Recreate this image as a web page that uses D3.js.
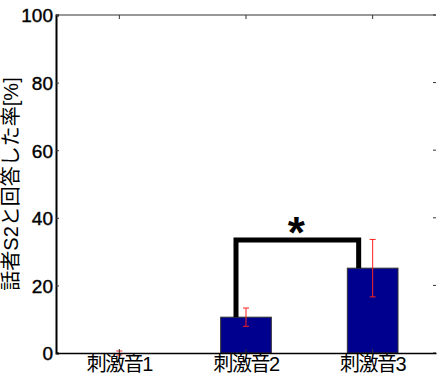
<!DOCTYPE html>
<html>
<head>
<meta charset="utf-8">
<script src="https://cdn.jsdelivr.net/npm/d3@7"></script>
<style>
  body { margin: 0; background: #fff; }
  text { font-family: "Liberation Sans", "Noto Sans CJK JP", sans-serif; fill: #000; }
</style>
</head>
<body>
<div id="chart"></div>
<script>
const categories = ['刺激音1', '刺激音2', '刺激音3'];
const values = [0, 10.6, 25.1];
const errors = [0.6, 2.7, 8.5];
const yTicks = [0, 20, 40, 60, 80, 100];
const sigPair = ['刺激音2', '刺激音3'];
const sigLevel = 33.4;

const W = 437, H = 382;
const margin = { left: 56, right: 1, top: 15, bottom: 29 };

const svg = d3.select('#chart').append('svg')
  .attr('width', W)
  .attr('height', H);

const x = d3.scaleBand()
  .domain(categories)
  .range([margin.left, W - margin.right])
  .paddingInner(0.6)
  .paddingOuter(0.3);

const y = d3.scaleLinear()
  .domain([0, 100])
  .range([H - margin.bottom, margin.top]);

const cx = d => x(d) + x.bandwidth() / 2;

// top frame line + ticks
svg.append('line')
  .attr('x1', margin.left).attr('x2', W - margin.right)
  .attr('y1', y(100)).attr('y2', y(100))
  .attr('stroke', '#333').attr('stroke-width', 1);

svg.selectAll('.ttick')
  .data(categories)
  .enter().append('line')
  .attr('x1', cx).attr('x2', cx)
  .attr('y1', y(100)).attr('y2', y(100) + 4)
  .attr('stroke', '#333');

// right ticks
svg.selectAll('.rtick')
  .data(yTicks)
  .enter().append('line')
  .attr('x1', W - margin.right - 3).attr('x2', W - margin.right)
  .attr('y1', d => y(d)).attr('y2', d => y(d))
  .attr('stroke', '#333');

// bars
svg.selectAll('.bar')
  .data(categories)
  .enter().append('rect')
  .attr('x', d => x(d))
  .attr('width', x.bandwidth())
  .attr('y', (d, i) => y(values[i]))
  .attr('height', (d, i) => y(0) - y(values[i]))
  .attr('fill', '#00008f')
  .attr('stroke', '#333')
  .attr('stroke-width', 1);

// error bars
const eb = svg.append('g').attr('stroke', '#ff2020').attr('stroke-width', 1);
categories.forEach((c, i) => {
  const lo = y(values[i] - errors[i]), hi = y(values[i] + errors[i]);
  eb.append('line').attr('x1', cx(c)).attr('x2', cx(c)).attr('y1', lo).attr('y2', hi);
  eb.append('line').attr('x1', cx(c) - 3).attr('x2', cx(c) + 3).attr('y1', lo).attr('y2', lo);
  eb.append('line').attr('x1', cx(c) - 3).attr('x2', cx(c) + 3).attr('y1', hi).attr('y2', hi);
});

// significance bracket
const i1 = categories.indexOf(sigPair[0]), i2 = categories.indexOf(sigPair[1]);
const bx1 = cx(sigPair[0]) - 10, bx2 = cx(sigPair[1]) - 14;
svg.append('path')
  .attr('d', `M${bx1},${y(values[i1])}V${y(sigLevel)}H${bx2}V${y(values[i2])}`)
  .attr('fill', 'none')
  .attr('stroke', '#000')
  .attr('stroke-width', 5);

svg.append('text')
  .attr('x', (bx1 + bx2) / 2 - 1)
  .attr('y', y(sigLevel) + 8)
  .attr('text-anchor', 'middle')
  .attr('font-size', 44)
  .attr('font-weight', 'bold')
  .text('*');

// y axis
const yAxis = svg.append('g')
  .attr('transform', `translate(${margin.left},0)`)
  .call(d3.axisLeft(y).tickValues(yTicks).tickSize(-3).tickPadding(3));
yAxis.select('.domain').attr('stroke', '#000').attr('stroke-width', 2);
yAxis.selectAll('.tick line').attr('stroke', '#333');
yAxis.selectAll('.tick text')
  .attr('font-size', 19)
  .attr('dy', '0.36em')
  .attr('fill', '#000')
  .attr('stroke', '#000')
  .attr('stroke-width', 0.4)
  .attr('font-family', '"Liberation Sans", sans-serif');

// x axis
const xAxis = svg.append('g')
  .attr('transform', `translate(0,${y(0)})`)
  .call(d3.axisBottom(x).tickSize(-4).tickPadding(4).tickSizeOuter(0));
xAxis.select('.domain').attr('stroke', '#000').attr('stroke-width', 1.5);
xAxis.selectAll('.tick line').attr('stroke', '#333');
xAxis.selectAll('.tick text')
  .attr('font-size', 20)
  .attr('letter-spacing', -1.5)
  .attr('fill', '#000')
  .attr('font-family', '"Noto Sans CJK JP", sans-serif');

// y label
svg.append('text')
  .attr('transform', `translate(18,${(y(0) + y(100)) / 2}) rotate(-90)`)
  .attr('text-anchor', 'middle')
  .attr('font-size', 20)
  .attr('font-family', '"Noto Sans CJK JP", sans-serif')
  .text('話者S2と回答した率[%]');
</script>
</body>
</html>
